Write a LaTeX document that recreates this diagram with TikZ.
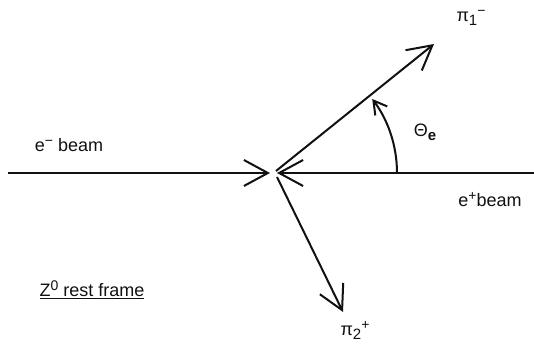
\documentclass[tikz,border=0pt]{standalone}
\usepackage{fontspec}
\setmainfont{Liberation Sans}
\usepackage{tikz}
\usetikzlibrary{
  arrows.meta,
  positioning,
}
\definecolor{inkBlack}{HTML}{111111}
\newcommand{\supTxt}[1]{\raisebox{6pt}{\fontsize{14}{14}\selectfont #1}}
\newcommand{\subTxt}[1]{\raisebox{-4pt}{\fontsize{15}{15}\selectfont #1}}
\tikzset{
  arrowBeam/.style={
    -{Straight Barb[length=24pt,width=26pt,line width=2pt]},
    line width=2pt, draw=inkBlack,
  },
  arrowAngle/.style={
    -{Straight Barb[length=13pt,width=15pt,line width=2pt]},
    line width=2pt, draw=inkBlack,
  },
  lbl/.style={
    inner sep=0pt, text=inkBlack, font=\fontsize{18}{20}\selectfont,
  },
}

\begin{document}
\begin{tikzpicture}[x=1pt, y=1pt]
\useasboundingbox (0,0) rectangle (534,358);

% interaction point and end points
\coordinate (ip) at (274,185);
\coordinate (eMinusStart) at (8,185);
\coordinate (eMinusTip) at (270,185);
\coordinate (ePlusStart) at (534,185);
\coordinate (ePlusTip) at (277,185);
\coordinate (piOneStart) at (276,187);
\coordinate (piOneTip) at (434,314);
\coordinate (piTwoStart) at (277,181);
\coordinate (piTwoTip) at (343,46);

\draw[arrowBeam] (eMinusStart) -- (eMinusTip);
\draw[arrowBeam] (ePlusStart) -- (ePlusTip);
\draw[arrowBeam] (piOneStart) -- (piOneTip);
\draw[arrowBeam] (piTwoStart) -- (piTwoTip);

% angle between pi1 and e+ beam
\draw[arrowAngle] ([xshift=123pt]ip) arc[start angle=0, end angle=37, radius=123pt];

\node[lbl] (eMinusLbl) at (69,213) {e\supTxt{−} beam};
\node[lbl] (ePlusLbl) at (490,158) {e\supTxt{+}beam};
\node[lbl] (piOneLbl) at (471,340) {π\subTxt{1}\supTxt{−}};
\node[lbl] (piTwoLbl) at (355,28) {π\subTxt{2}\supTxt{+}};
\node[lbl] (thetaLbl) at (425,226) {Θ\subTxt{\bfseries e}};
\node[lbl] (frameLbl) at (92,68) {\underline{Z\supTxt{0} rest frame}};

\end{tikzpicture}
\end{document}
